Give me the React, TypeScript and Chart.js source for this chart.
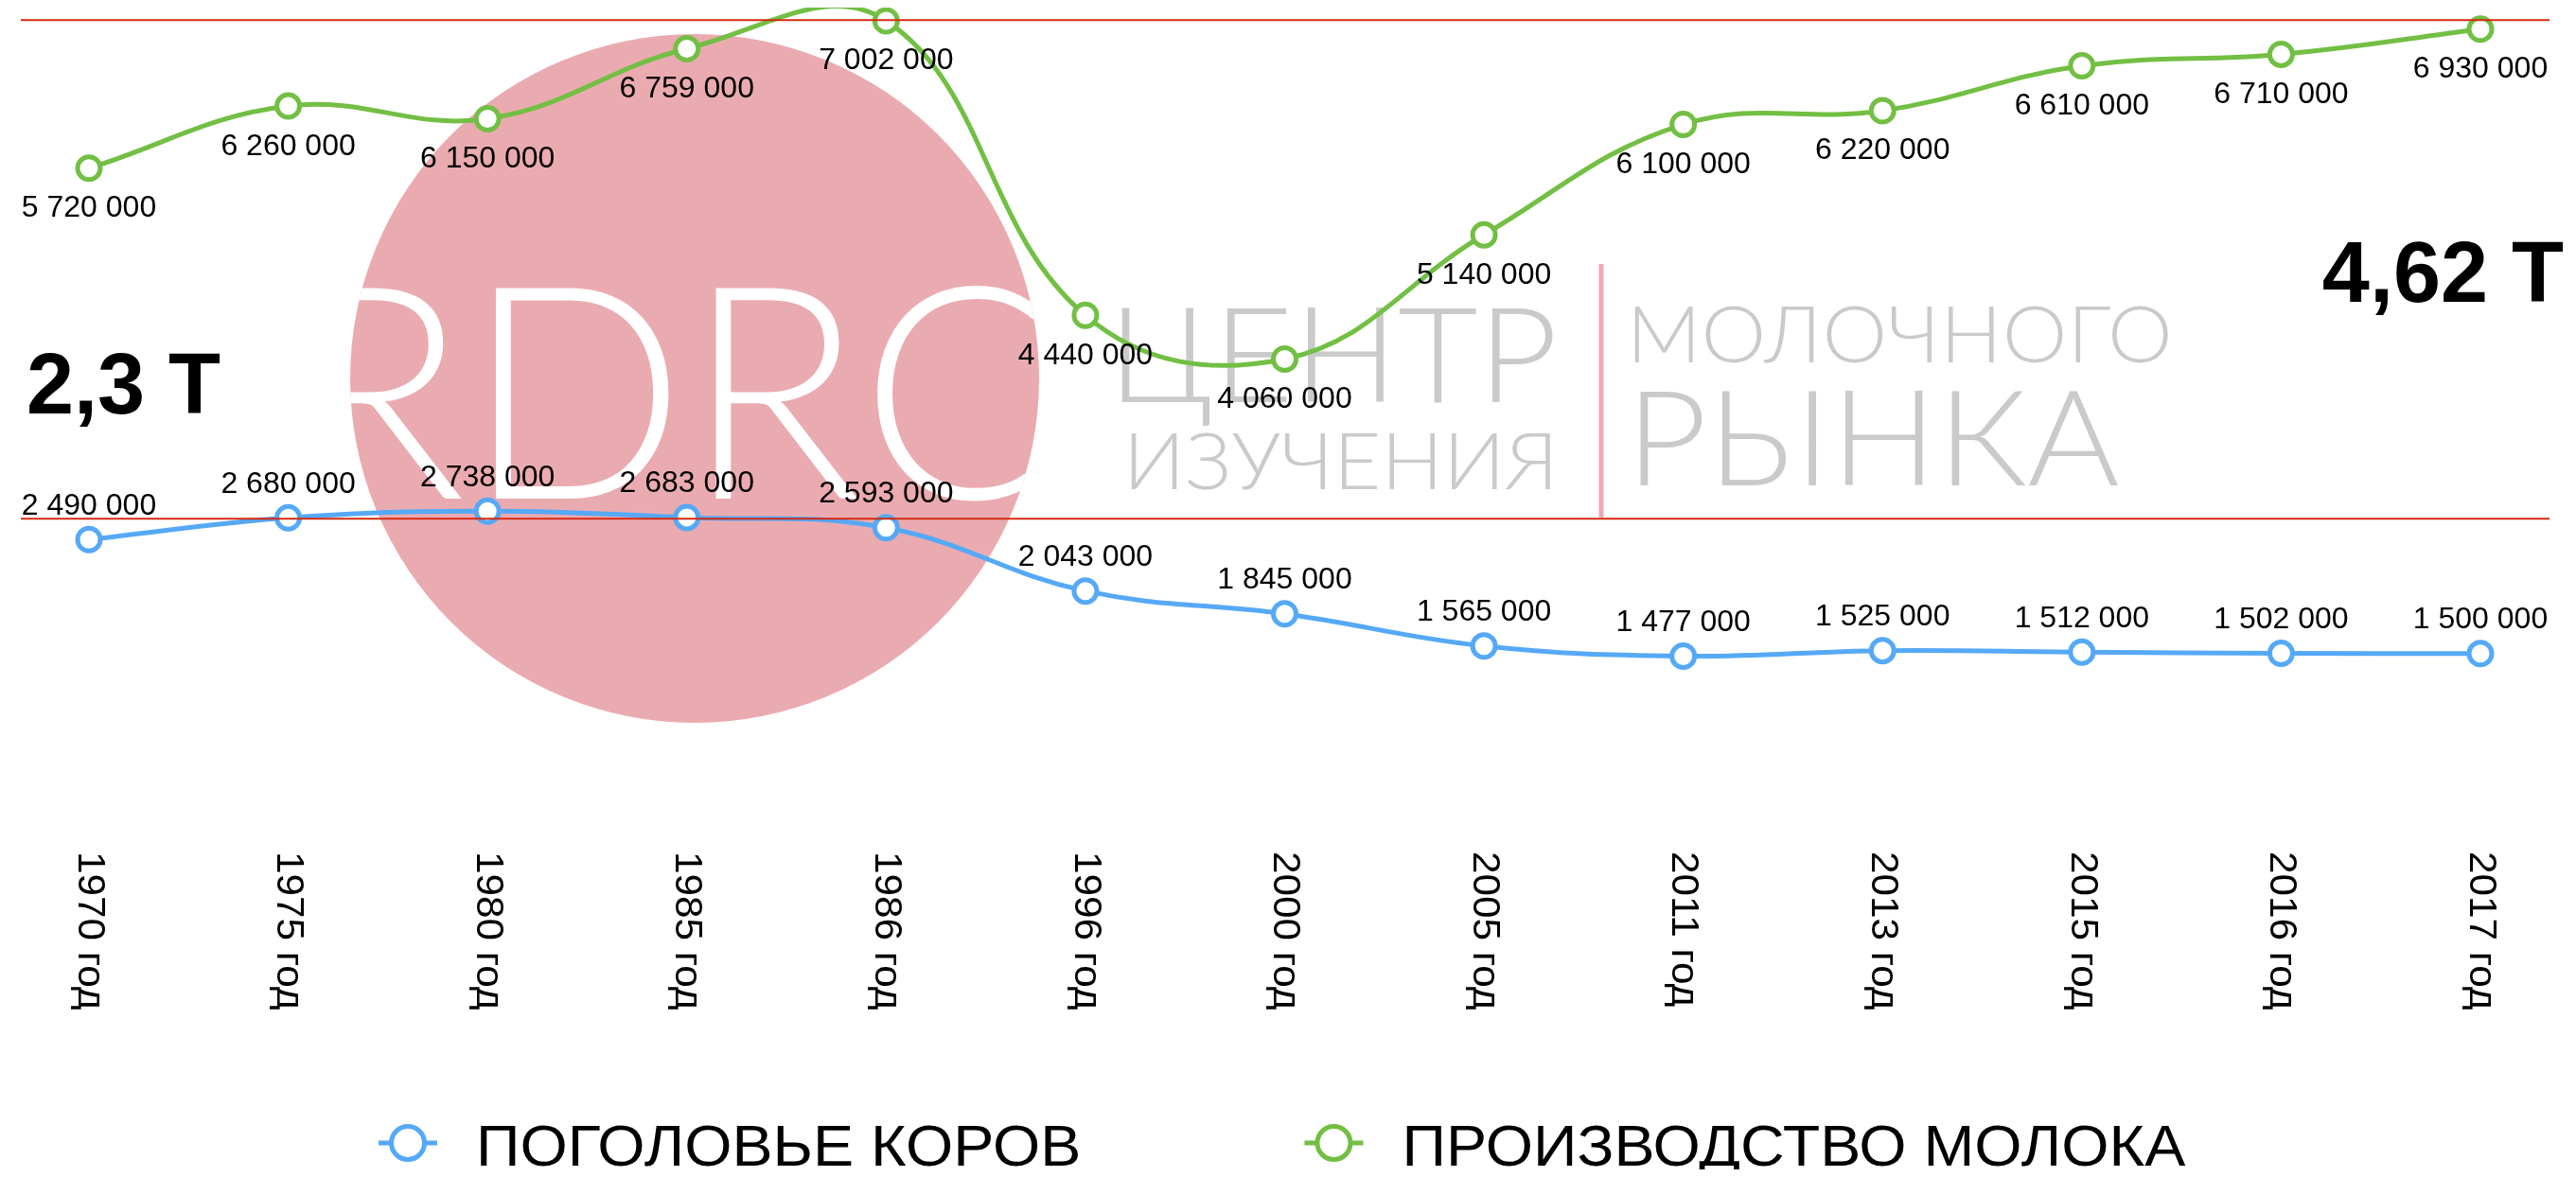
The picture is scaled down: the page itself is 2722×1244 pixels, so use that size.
import React, { useEffect, useRef } from 'react';
import { Chart, registerables } from 'chart.js';

Chart.register(...registerables);

// ---- data ----
const categories = [
  '1970 год', '1975 год', '1980 год', '1985 год', '1986 год', '1996 год', '2000 год',
  '2005 год', '2011 год', '2013 год', '2015 год', '2016 год', '2017 год',
];
const cowHeads = [
  2490000, 2680000, 2738000, 2683000, 2593000, 2043000, 1845000,
  1565000, 1477000, 1525000, 1512000, 1502000, 1500000,
];
const milkOutput = [
  5720000, 6260000, 6150000, 6759000, 7002000, 4440000, 4060000,
  5140000, 6100000, 6220000, 6610000, 6710000, 6930000,
];
const seriesNames = ['ПОГОЛОВЬЕ КОРОВ', 'ПРОИЗВОДСТВО МОЛОКА'];
const referenceLines = [7007000, 2672000];
const sideNotes = ['2,3 Т', '4,62 Т'];
const yMax = 7100000;

// ---- styles ----
const BLUE = '#55a9f6';
const GREEN = '#72bf44';
const RED = '#d42a12';
const PINK = '#eaabb0';
const GREY = '#cacaca';
const SANS = '"Liberation Sans", Arial, Helvetica, sans-serif';
const THIN = 'Lato, Roboto, Inter, "Open Sans", sans-serif';

const fmt = (v: number) => String(v).replace(/\B(?=(\d{3})+(?!\d))/g, ' ');

function fitText(
  ctx: CanvasRenderingContext2D, text: string, font: string,
  x0: number, x1: number, top: number, base: number, color: string,
) {
  ctx.save();
  ctx.font = font;
  ctx.textAlign = 'left';
  ctx.textBaseline = 'alphabetic';
  const m = ctx.measureText(text);
  const w = m.actualBoundingBoxLeft + m.actualBoundingBoxRight;
  const asc = m.actualBoundingBoxAscent;
  const sx = (x1 - x0) / w;
  const sy = (base - top) / asc;
  ctx.translate(x0 + m.actualBoundingBoxLeft * sx, base);
  ctx.scale(sx, sy);
  ctx.fillStyle = color;
  ctx.fillText(text, 0, 0);
  ctx.restore();
}

const watermarkPlugin = {
  id: 'watermark',
  beforeDatasetsDraw(chart: any) {
    const ctx: CanvasRenderingContext2D = chart.ctx;
    ctx.save();
    // circle logo
    ctx.beginPath();
    ctx.arc(726, 392, 364, 0, Math.PI * 2);
    ctx.fillStyle = PINK;
    ctx.fill();
    ctx.clip();
    fitText(ctx, 'RDRC', `300 300px ${THIN}`, 327, 1102, 293, 519, '#ffffff');
    ctx.restore();

    ctx.save();
    fitText(ctx, 'ЦЕНТР', `300 140px ${THIN}`, 1177, 1633, 317, 417, GREY);
    fitText(ctx, 'ИЗУЧЕНИЯ', `300 84px ${THIN}`, 1187, 1630, 449, 509, GREY);
    fitText(ctx, 'МОЛОЧНОГО', `300 84px ${THIN}`, 1719, 2283, 315, 375, GREY);
    fitText(ctx, 'РЫНКА', `300 140px ${THIN}`, 1725, 2230, 405, 505, GREY);
    ctx.strokeStyle = PINK;
    ctx.lineWidth = 5;
    ctx.beginPath();
    ctx.moveTo(1684, 271);
    ctx.lineTo(1684, 539);
    ctx.stroke();
    ctx.restore();
  },
};

const overlayPlugin = {
  id: 'overlay',
  afterDatasetsDraw(chart: any) {
    const ctx: CanvasRenderingContext2D = chart.ctx;
    const area = chart.chartArea;
    const yScale = chart.scales.y;
    const xScale = chart.scales.x;
    ctx.save();

    // red reference lines
    ctx.strokeStyle = RED;
    ctx.lineWidth = 2;
    referenceLines.forEach((v) => {
      const y = yScale.getPixelForValue(v);
      ctx.beginPath();
      ctx.moveTo(area.left - 72, y);
      ctx.lineTo(area.right + 73, y);
      ctx.stroke();
    });

    // data labels
    ctx.fillStyle = '#000';
    ctx.font = `32px ${SANS}`;
    ctx.textAlign = 'center';
    ctx.textBaseline = 'alphabetic';
    chart.data.datasets.forEach((ds: any, di: number) => {
      const meta = chart.getDatasetMeta(di);
      meta.data.forEach((pt: any, i: number) => {
        const dy = di === 0 ? -26.5 : 51.5;
        ctx.fillText(fmt(ds.data[i]), pt.x, pt.y + dy);
      });
    });

    // rotated category labels
    ctx.font = `41px ${SANS}`;
    ctx.textAlign = 'left';
    ctx.textBaseline = 'middle';
    chart.data.labels.forEach((lab: string, i: number) => {
      const x = xScale.getPixelForValue(i);
      ctx.save();
      ctx.translate(x, 892);
      ctx.rotate(Math.PI / 2);
      ctx.scale(1.03, 1);
      ctx.fillText(lab, 0, 0);
      ctx.restore();
    });

    // side notes
    ctx.font = `bold 90px ${SANS}`;
    ctx.textBaseline = 'alphabetic';
    ctx.textAlign = 'left';
    ctx.fillText(sideNotes[0], 20, 429);
    ctx.textAlign = 'right';
    ctx.fillText(sideNotes[1], 2701, 311);

    // legend
    ctx.font = `61px ${SANS}`;
    ctx.textAlign = 'left';
    const stretch = 1.06;
    let x = 392;
    const ly = 1200;
    chart.data.datasets.forEach((ds: any) => {
      ctx.strokeStyle = ds.borderColor;
      ctx.lineWidth = 5;
      ctx.beginPath();
      ctx.moveTo(x, ly);
      ctx.lineTo(x + 62, ly);
      ctx.stroke();
      ctx.beginPath();
      ctx.arc(x + 31, ly, 17.5, 0, Math.PI * 2);
      ctx.fillStyle = '#fff';
      ctx.fill();
      ctx.stroke();
      ctx.fillStyle = '#000';
      ctx.save();
      ctx.translate(x + 103, 1224);
      ctx.scale(stretch, 1);
      ctx.fillText(ds.label, 0, 0);
      ctx.restore();
      x += 103 + ctx.measureText(ds.label).width * stretch + 236;
    });

    ctx.restore();
  },
};

export default function App() {
  const ref = useRef<HTMLCanvasElement>(null);
  useEffect(() => {
    if (!ref.current) return;
    const chart = new Chart(ref.current, {
      type: 'line',
      data: {
        labels: categories,
        datasets: [
          {
            label: seriesNames[0],
            data: cowHeads,
            borderColor: BLUE,
            backgroundColor: '#ffffff',
            pointBackgroundColor: '#ffffff',
            pointBorderColor: BLUE,
            borderWidth: 5,
            pointRadius: 12,
            pointBorderWidth: 5,
            tension: 0.4,
            clip: false as any,
          },
          {
            label: seriesNames[1],
            data: milkOutput,
            borderColor: GREEN,
            backgroundColor: '#ffffff',
            pointBackgroundColor: '#ffffff',
            pointBorderColor: GREEN,
            borderWidth: 5,
            pointRadius: 12,
            pointBorderWidth: 5,
            tension: 0.4,
            clip: false as any,
          },
        ],
      },
      options: {
        responsive: false,
        animation: false,
        layout: { autoPadding: false, padding: { left: 86, right: 93, top: 2, bottom: 363 } },
        elements: { line: { capBezierPoints: false } },
        scales: {
          x: { display: false, offset: false },
          y: { display: false, min: 0, max: yMax },
        },
        plugins: {
          legend: { display: false },
          tooltip: { enabled: false },
        },
      },
      plugins: [watermarkPlugin, overlayPlugin],
    });
    return () => chart.destroy();
  }, []);
  return (
    <canvas
      ref={ref}
      width={2706}
      height={1228}
      style={{ display: 'block', width: '2706px', height: '1228px' }}
    />
  );
}
